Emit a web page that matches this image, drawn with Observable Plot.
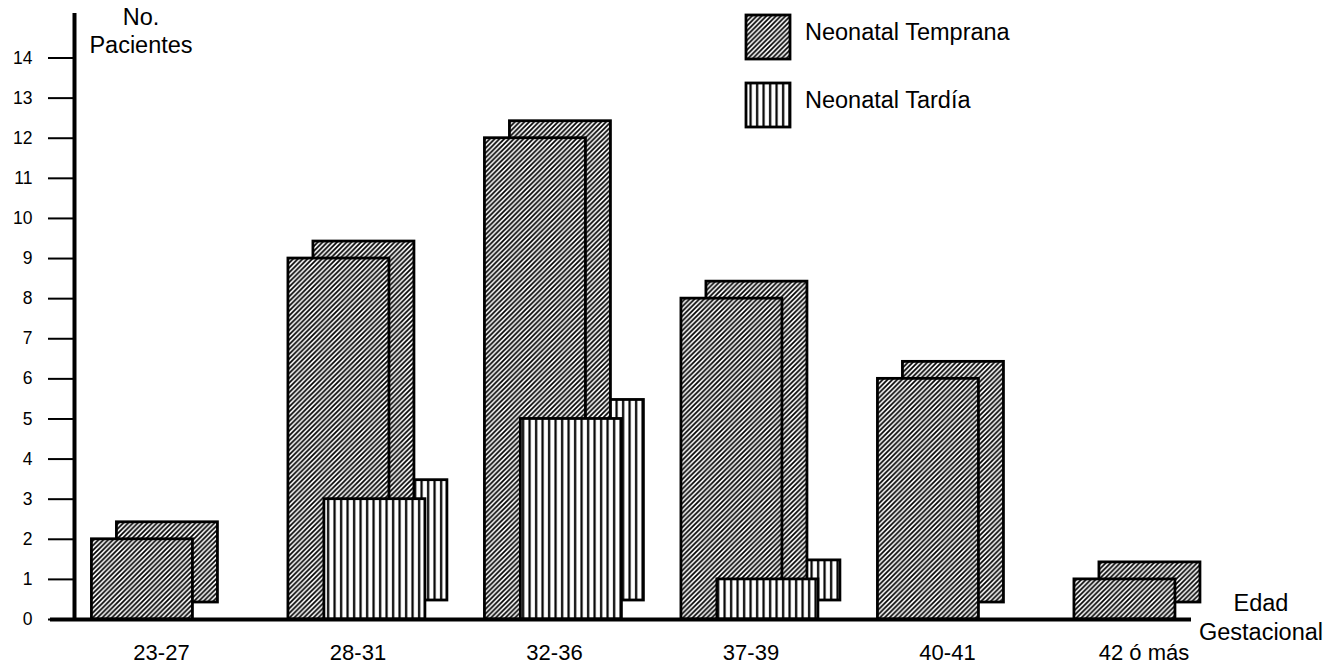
<!DOCTYPE html>
<html>
<head>
<meta charset="utf-8">
<script src="https://cdn.jsdelivr.net/npm/d3@7"></script>
<script src="https://cdn.jsdelivr.net/npm/@observablehq/plot@0.6"></script>
<style>
  html, body { margin: 0; padding: 0; background: #fff; }
  #chart svg { display: block; }
</style>
</head>
<body>
<div id="chart"></div>
<script>
// ---- data ----
const categories = ["23-27", "28-31", "32-36", "37-39", "40-41", "42 ó más"];
const temprana = [2, 9, 12, 8, 6, 1];   // Neonatal Temprana
const tardia   = [0, 3, 5, 1, 0, 0];    // Neonatal Tardía
const yTicks = [0, 1, 2, 3, 4, 5, 6, 7, 8, 9, 10, 11, 12, 13, 14];
const seriesNames = ["Neonatal Temprana", "Neonatal Tardía"];
const yTitle = ["No.", "Pacientes"];
const xTitle = ["Edad", "Gestacional"];

// ---- tables built from the arrays ----
const early = categories.map((c, i) => ({i, c, v: temprana[i]})).filter(d => d.v > 0);
const late  = categories.map((c, i) => ({i, c, v: tardia[i]})).filter(d => d.v > 0);

const FONT = "'Liberation Sans', Arial, Helvetica, sans-serif";
const xMin = -0.4427, xMax = 5.2417, yMax = 15.11;

const bar = (fill, a, b, extra) => Object.assign({
  x1: d => d.i + a, x2: d => d.i + b, y1: 0, y2: "v",
  fill, stroke: "black", strokeWidth: 2.8
}, extra);

const plot = Plot.plot({
  width: 1331,
  height: 670,
  marginLeft: 74,
  marginRight: 140,
  marginTop: 13,
  marginBottom: 51,
  style: {fontFamily: FONT, background: "white", color: "black", overflow: "visible"},
  x: {type: "linear", domain: [xMin, xMax]},
  y: {type: "linear", domain: [0, yMax]},
  marks: [
    // back faces (offset "3D" depth)
    Plot.rect(late,  bar("url(#vert)", -0.171, 0.343, {dx: 22, dy: -19})),
    Plot.rect(early, bar("url(#diag)", -0.354, 0.160, {dx: 25, dy: -17})),
    // front faces
    Plot.rect(early, bar("url(#diag)", -0.354, 0.160)),
    Plot.rect(late,  bar("url(#vert)", -0.171, 0.343)),
    // axes lines
    Plot.ruleY([0], {x1: -0.565, x2: xMax, stroke: "black", strokeWidth: 4}),
    Plot.ruleX([xMin], {y1: 0, y2: yMax, stroke: "black", strokeWidth: 4}),
    Plot.axisY({ticks: yTicks, tickSize: 26, tickPadding: 16, fontSize: 17.5, strokeWidth: 2, label: null}),
    Plot.axisX({ticks: d3.range(categories.length), tickFormat: i => categories[i],
                tickSize: 0, tickPadding: 25, fontSize: 22, label: null})
  ]
});

const svg = d3.select(plot);
svg.attr("font-family", FONT);
const defs = svg.insert("defs", ":first-child");
const diag = defs.append("pattern").attr("id", "diag").attr("patternUnits", "userSpaceOnUse")
  .attr("width", 4.8).attr("height", 4.8);
diag.append("rect").attr("width", 4.8).attr("height", 4.8).attr("fill", "white");
diag.append("path").attr("d", "M-1.2,1.2 L1.2,-1.2 M0,4.8 L4.8,0 M3.6,6 L6,3.6")
  .attr("stroke", "black").attr("stroke-width", 1.7);
const vert = defs.append("pattern").attr("id", "vert").attr("patternUnits", "userSpaceOnUse")
  .attr("width", 6.5).attr("height", 10);
vert.append("rect").attr("width", 6.5).attr("height", 10).attr("fill", "white");
vert.append("rect").attr("x", 2).attr("width", 2.2).attr("height", 10).attr("fill", "black");

// axis titles
const t1 = svg.append("text").attr("text-anchor", "middle").attr("font-size", 23.5).attr("fill", "black");
t1.append("tspan").attr("x", 141).attr("y", 25).text(yTitle[0]);
t1.append("tspan").attr("x", 141).attr("y", 53).text(yTitle[1]);
const t2 = svg.append("text").attr("text-anchor", "middle").attr("font-size", 23.5).attr("fill", "black");
t2.append("tspan").attr("x", 1261).attr("y", 611).text(xTitle[0]);
t2.append("tspan").attr("x", 1261).attr("y", 640).text(xTitle[1]);

// legend
const legend = svg.append("g").attr("text-anchor", "start");
const fills = ["url(#diag)", "url(#vert)"];
seriesNames.forEach((name, k) => {
  const y0 = 15 + k * 68;
  legend.append("rect").attr("x", 746).attr("y", y0).attr("width", 44).attr("height", 44)
    .attr("fill", fills[k]).attr("stroke", "black").attr("stroke-width", 2.8);
  legend.append("text").attr("x", 805).attr("y", y0 + 25).attr("font-size", 23.5)
    .attr("text-anchor", "start").attr("fill", "black").text(name);
});

document.getElementById("chart").appendChild(plot);
</script>
</body>
</html>
